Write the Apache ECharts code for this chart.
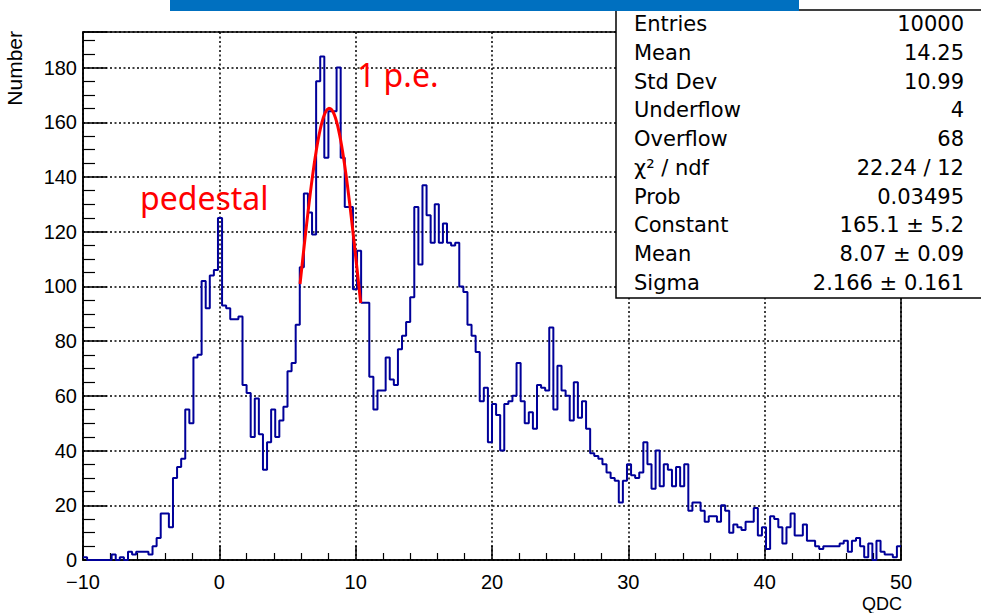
<!DOCTYPE html>
<html><head><meta charset="utf-8">
<script src="https://cdn.jsdelivr.net/npm/echarts@6/dist/echarts.min.js"></script>
<style>html,body{margin:0;padding:0;background:#fff;}#c{width:981px;height:613px;}</style>
</head><body><div id="c"></div>
<script>
// ---- data ----
const xMin = -10, xMax = 50, binWidth = 0.3;
const yMax = 193;
const counts = [
  1,0,0,0,0,0,0,2,0,1, 0,3,2,3,3,3,2,5,8,17,
  17,12,30,34,37,55,50,74,75,102, 92,104,106,125,93,92,88,88,89,64,
  61,45,59,46,33,43,55,45,51,56, 69,72,86,107,134,127,119,175,184,147,
  164,164,180,147,129,129,99,113,94,94, 67,55,62,62,74,66,64,77,82,87,
  96,129,108,137,126,116,130,116,123,116, 115,116,100,98,86,82,76,58,63,43,
  57,53,40,57,58,60,72,58,50,54, 48,64,63,62,85,55,71,62,60,51,
  65,52,58,48,39,38,37,35,32,30, 29,21,29,35,31,30,32,43,35,26,
  40,27,35,33,27,34,27,35,18,21, 21,18,14,16,16,14,20,18,10,13,
  12,11,14,14,19,9,12,4,16,15, 12,6,12,17,9,9,13,7,7,5,
  4,5,5,5,5,6,7,3,7,8, 5,1,6,0,7,3,2,2,1,5
];
const fitConstant = 165.1, fitMean = 8.07, fitSigma = 2.166;
const fitRange = [5.92, 10.37];
const statNames = ['Entries','Mean','Std Dev','Underflow','Overflow','χ² / ndf','Prob','Constant','Mean','Sigma'];
const statValues = ['10000','14.25','10.99','4','68','22.24 / 12','0.03495','165.1 ± 5.2','8.07 ± 0.09','2.166 ± 0.161'];
const annotations = ['pedestal', '1 p.e.'];
const xTitle = 'QDC', yTitle = 'Number';

// ---- build series ----
const histData = counts.map((v, i) => [xMin + i * binWidth, v]);
histData.push([xMax, counts[counts.length - 1]]);
const fitData = [];
for (let k = 0; k <= 60; k++) {
  const x = fitRange[0] + (fitRange[1] - fitRange[0]) * k / 60;
  fitData.push([x, fitConstant * Math.exp(-0.5 * Math.pow((x - fitMean) / fitSigma, 2))]);
}

const F = 'Liberation Sans, Arial, sans-serif';
const statFont = 'DejaVu Sans, sans-serif';
const graphics = [];
graphics.push({type:'rect', z:100, shape:{x:616, y:10, width:400, height:288},
  style:{fill:'#fff', stroke:'#000', lineWidth:1.5}});
graphics.push({type:'rect', z:101, shape:{x:170, y:0, width:629, height:11},
  style:{fill:'#0070C0'}});
statNames.forEach((n, k) => {
  const y = 24 + k * 28.75;
  graphics.push({type:'text', z:102, x:634, y:y,
    style:{text:n, fontFamily:statFont, fontSize:21, fill:'#000', align:'left', verticalAlign:'middle'}});
  graphics.push({type:'text', z:102, x:964, y:y,
    style:{text:statValues[k], fontFamily:statFont, fontSize:21, fill:'#000', align:'right', verticalAlign:'middle'}});
});
graphics.push({type:'text', z:102, x:140, y:197,
  style:{text:annotations[0], fontFamily:'Noto Sans, Open Sans, sans-serif', fontSize:32, fill:'#ff0000', align:'left', verticalAlign:'middle'}});
graphics.push({type:'text', z:102, x:357, y:74,
  style:{text:annotations[1], fontFamily:'Noto Sans, Open Sans, sans-serif', fontSize:32, fill:'#ff0000', align:'left', verticalAlign:'middle'}});
graphics.push({type:'text', z:102, x:14, y:31, rotation:Math.PI/2,
  style:{text:yTitle, fontFamily:F, fontSize:21, fill:'#000', align:'right', verticalAlign:'middle'}});
graphics.push({type:'text', z:102, x:902, y:603.5,
  style:{text:xTitle, fontFamily:F, fontSize:18, fill:'#000', align:'right', verticalAlign:'middle'}});

const dotted = {color:'#000', width:1.5, type:[2,2.5]};
const chart = echarts.init(document.getElementById('c'), null, {renderer:'svg'});
chart.setOption({
  animation:false,
  backgroundColor:'#fff',
  grid:{left:83, right:80, top:32, bottom:53, show:true, borderColor:'#000', borderWidth:1.5,
        containLabel:false, outerBoundsMode:'none'},
  xAxis:{type:'value', min:xMin, max:xMax, interval:10,
    axisLine:{show:true, onZero:false, lineStyle:{color:'#000', width:1.5}},
    axisTick:{show:true, inside:true, length:14, lineStyle:{color:'#000', width:1.5}},
    minorTick:{show:true, splitNumber:5, length:7, lineStyle:{color:'#000', width:1.2}},
    splitLine:{show:true, lineStyle:dotted},
    axisLabel:{color:'#000', fontFamily:F, fontSize:20, margin:11.5,
      formatter:v => (v < 0 ? '\u2212' : '') + Math.abs(v)}},
  yAxis:{type:'value', min:0, max:yMax, interval:20,
    axisLine:{show:true, onZero:false, lineStyle:{color:'#000', width:1.5}},
    axisTick:{show:true, inside:true, length:24, lineStyle:{color:'#000', width:1.5}},
    minorTick:{show:true, splitNumber:4, length:12, lineStyle:{color:'#000', width:1.2}},
    splitLine:{show:true, lineStyle:dotted},
    axisLabel:{color:'#000', fontFamily:F, fontSize:20, margin:6, showMaxLabel:false,
      formatter:v => (v % 20 === 0 ? String(v) : '')}},
  series:[
    {type:'line', data:histData, step:'end', symbol:'none', z:3,
     lineStyle:{color:'#000099', width:2}},
    {type:'line', data:fitData, symbol:'none', z:4, smooth:false,
     lineStyle:{color:'#ff0000', width:3}}
  ],
  graphic:{elements:graphics}
});
</script></body></html>
